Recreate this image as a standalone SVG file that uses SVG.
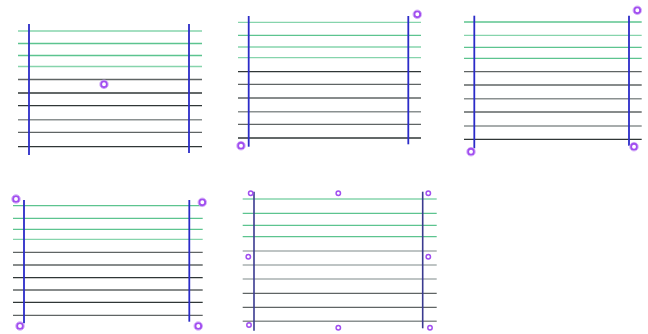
<svg xmlns="http://www.w3.org/2000/svg" width="648" height="334" viewBox="0 0 648 334">
<style>
.g1{stroke:#86d4ac;stroke-width:1.3}
.g2{stroke:#5cc48f;stroke-width:1.3}
.d1{stroke:#2f3636;stroke-width:1.3}
.d2{stroke:#5f6464;stroke-width:1.3}
.d3{stroke:#8a9090;stroke-width:1.5}
.d4{stroke:#a8b0b0;stroke-width:1.5}
.v{stroke:#2b2bc8;stroke-width:1.8}
.v2{stroke:#3a3a90;stroke-width:1.6}
.r{fill:none;stroke:#a14ef0;stroke-width:1.9}
.ro{fill:none;stroke:#cfa6f7;stroke-width:0.9}
.rs{fill:none;stroke:#a14ef0;stroke-width:1.5}
</style>
<defs>
<g id="ring"><circle r="4.3" class="ro"/><circle r="2.9" class="r"/></g>
<g id="ringS"><circle r="2.2" class="rs"/></g>
</defs>
<g id="panel1">
<g id="p1-lines">
<line x1="18" y1="31" x2="202" y2="31" class="g1"/>
<line x1="18" y1="43.5" x2="202" y2="43.5" class="g2"/>
<line x1="18" y1="55.5" x2="202" y2="55.5" class="g2"/>
<line x1="18" y1="66.5" x2="202" y2="66.5" class="g1"/>
<line x1="18" y1="79.5" x2="202" y2="79.5" class="d2"/>
<line x1="18" y1="93" x2="202" y2="93" class="d1"/>
<line x1="18" y1="105.7" x2="202" y2="105.7" class="d1"/>
<line x1="18" y1="119.7" x2="202" y2="119.7" class="d3"/>
<line x1="18" y1="132.3" x2="202" y2="132.3" class="d2"/>
<line x1="18" y1="146.7" x2="202" y2="146.7" class="d1"/>
</g>
<line x1="29" y1="24" x2="29" y2="155" class="v"/>
<line x1="189" y1="24" x2="189" y2="153" class="v"/>
<use href="#ring" x="104" y="84.3"/>
</g>
<g id="panel2">
<line x1="238" y1="22.3" x2="421" y2="22.3" class="g1"/>
<line x1="238" y1="35.3" x2="421" y2="35.3" class="g2"/>
<line x1="238" y1="47" x2="421" y2="47" class="g1"/>
<line x1="238" y1="57.7" x2="421" y2="57.7" class="g1"/>
<line x1="238" y1="71.7" x2="421" y2="71.7" class="d1"/>
<line x1="238" y1="84.3" x2="421" y2="84.3" class="d2"/>
<line x1="238" y1="98" x2="421" y2="98" class="d2"/>
<line x1="238" y1="111.7" x2="421" y2="111.7" class="d3"/>
<line x1="238" y1="124.3" x2="421" y2="124.3" class="d2"/>
<line x1="238" y1="138" x2="421" y2="138" class="d1"/>
<line x1="248.7" y1="16" x2="248.7" y2="146.7" class="v"/>
<line x1="408.3" y1="16" x2="408.3" y2="144.3" class="v"/>
<use href="#ring" x="417.3" y="14.3"/>
<use href="#ring" x="241" y="145.7"/>
</g>
<g id="panel3">
<line x1="464" y1="22" x2="641.7" y2="22" class="g2"/>
<line x1="464" y1="35.3" x2="641.7" y2="35.3" class="g1"/>
<line x1="464" y1="47.3" x2="641.7" y2="47.3" class="g2"/>
<line x1="464" y1="58.3" x2="641.7" y2="58.3" class="g2"/>
<line x1="464" y1="71.7" x2="641.7" y2="71.7" class="d2"/>
<line x1="464" y1="85" x2="641.7" y2="85" class="d2"/>
<line x1="464" y1="98.7" x2="641.7" y2="98.7" class="d3"/>
<line x1="464" y1="112" x2="641.7" y2="112" class="d2"/>
<line x1="464" y1="126" x2="641.7" y2="126" class="d3"/>
<line x1="464" y1="139.3" x2="641.7" y2="139.3" class="d1"/>
<line x1="474.3" y1="15.7" x2="474.3" y2="148.3" class="v"/>
<line x1="629" y1="15.7" x2="629" y2="145.7" class="v"/>
<use href="#ring" x="637.3" y="10.3"/>
<use href="#ring" x="471" y="151.7"/>
<use href="#ring" x="634" y="146.7"/>
</g>
<g id="panel4">
<line x1="13" y1="205.7" x2="202.7" y2="205.7" class="g2"/>
<line x1="13" y1="218.3" x2="202.7" y2="218.3" class="g2"/>
<line x1="13" y1="229.3" x2="202.7" y2="229.3" class="g2"/>
<line x1="13" y1="239.3" x2="202.7" y2="239.3" class="g1"/>
<line x1="13" y1="252.3" x2="202.7" y2="252.3" class="d2"/>
<line x1="13" y1="265" x2="202.7" y2="265" class="d2"/>
<line x1="13" y1="277.7" x2="202.7" y2="277.7" class="d1"/>
<line x1="13" y1="290" x2="202.7" y2="290" class="d2"/>
<line x1="13" y1="302.3" x2="202.7" y2="302.3" class="d1"/>
<line x1="13" y1="315.3" x2="202.7" y2="315.3" class="d2"/>
<line x1="24" y1="200" x2="24" y2="323.3" class="v"/>
<line x1="189.3" y1="200" x2="189.3" y2="321.7" class="v"/>
<use href="#ring" x="16" y="199"/>
<use href="#ring" x="202.3" y="202.3"/>
<use href="#ring" x="20" y="326"/>
<use href="#ring" x="198.3" y="326"/>
</g>
<g id="panel5">
<line x1="242.7" y1="199" x2="436.7" y2="199" class="g1"/>
<line x1="242.7" y1="213.3" x2="436.7" y2="213.3" class="g2"/>
<line x1="242.7" y1="225.3" x2="436.7" y2="225.3" class="g2"/>
<line x1="242.7" y1="236.7" x2="436.7" y2="236.7" class="g2"/>
<line x1="242.7" y1="251" x2="436.7" y2="251" class="d4"/>
<line x1="242.7" y1="265" x2="436.7" y2="265" class="d4"/>
<line x1="242.7" y1="279" x2="436.7" y2="279" class="d4"/>
<line x1="242.7" y1="293.3" x2="436.7" y2="293.3" class="d2"/>
<line x1="242.7" y1="307.3" x2="436.7" y2="307.3" class="d2"/>
<line x1="242.7" y1="321.3" x2="436.7" y2="321.3" class="d3"/>
<line x1="254" y1="191.7" x2="254" y2="330.7" class="v2"/>
<line x1="422.7" y1="191.7" x2="422.7" y2="328.3" class="v2"/>
<use href="#ringS" x="250.7" y="193.3"/>
<use href="#ringS" x="338.3" y="193.3"/>
<use href="#ringS" x="428.3" y="193.3"/>
<use href="#ringS" x="248.3" y="256.7"/>
<use href="#ringS" x="428.3" y="256.7"/>
<use href="#ringS" x="249" y="325"/>
<use href="#ringS" x="338.3" y="327.7"/>
<use href="#ringS" x="430" y="327.7"/>
</g>
</svg>
